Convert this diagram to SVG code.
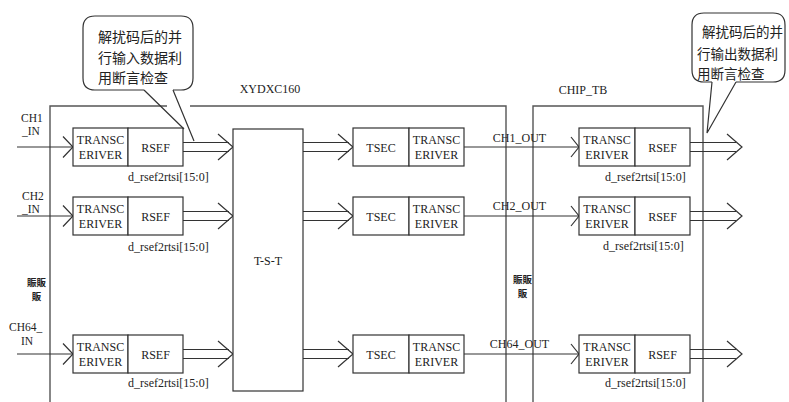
<svg xmlns="http://www.w3.org/2000/svg" xmlns:xlink="http://www.w3.org/1999/xlink" width="789" height="402" viewBox="0 0 789 402">
<style>
.b{fill:#fff;stroke:#333;stroke-width:1.2}
.l{fill:none;stroke:#333;stroke-width:1.2}
.f{fill:none;stroke:#555;stroke-width:1.4}
.t{font-family:'Liberation Serif','DejaVu Serif','Times New Roman',serif;font-size:12px;fill:#222}
.s{font-size:11.5px}
.m{text-anchor:middle}
.c{font-family:'Noto Sans CJK SC','Noto Sans CJK TC',sans-serif;font-size:14px;fill:#222}
.c2{font-size:13.5px}
.g{font-family:'Noto Sans CJK TC','Noto Sans CJK SC',sans-serif;font-size:9.5px;font-weight:bold;fill:#222;text-anchor:middle}
</style>
<defs>
<path id="chS" class="l" d="M-10,-10.5 L0,0 L-10,10.5"/>
<path id="chR" class="l" d="M-8,-10 L0,0 L-8,10"/>
<path id="chL" class="l" d="M-15,-13 L0,0 L-15,13"/>
<path id="dbl" class="l" d="M0,-4.5 H46 M0,4.5 H46"/>
</defs>
<rect width="789" height="402" fill="#fff"/>

<g id="frames">
<path class="f" d="M50,402 V106 H167 M190,106 H506 V402"/>
<path class="f" d="M533,402 V106 H703 V402"/>
<text class="t m" x="270" y="93">XYDXC160</text>
<text class="t m" x="583" y="94">CHIP_TB</text>
<text class="g" x="36.5" y="286">賑販</text>
<text class="g" x="36.5" y="300">販</text>
<text class="g" x="522.5" y="283">賑販</text>
<text class="g" x="522.5" y="297">販</text>
</g>

<g id="connectors">
<!-- row 1 -->
<path class="l" d="M17,147 H73"/><use xlink:href="#chS" x="73" y="147"/>
<use xlink:href="#dbl" x="183" y="147"/><use xlink:href="#chL" x="233" y="147"/>
<use xlink:href="#dbl" x="303" y="147"/><use xlink:href="#chL" x="353" y="147"/>
<path class="l" d="M464,147 H579"/><use xlink:href="#chR" x="579" y="147"/>
<use xlink:href="#dbl" x="690" y="147"/><use xlink:href="#chL" x="742" y="147"/>
<!-- row 2 -->
<path class="l" d="M17,216 H73"/><use xlink:href="#chS" x="73" y="216"/>
<use xlink:href="#dbl" x="183" y="216"/><use xlink:href="#chL" x="233" y="216"/>
<use xlink:href="#dbl" x="303" y="216"/><use xlink:href="#chL" x="353" y="216"/>
<path class="l" d="M464,216 H579"/><use xlink:href="#chR" x="579" y="216"/>
<use xlink:href="#dbl" x="690" y="216"/><use xlink:href="#chL" x="742" y="216"/>
<!-- row 3 -->
<path class="l" d="M17,354 H73"/><use xlink:href="#chS" x="73" y="354"/>
<use xlink:href="#dbl" x="183" y="354"/><use xlink:href="#chL" x="233" y="354"/>
<use xlink:href="#dbl" x="303" y="354"/><use xlink:href="#chL" x="353" y="354"/>
<path class="l" d="M464,354 H579"/><use xlink:href="#chR" x="579" y="354"/>
<use xlink:href="#dbl" x="690" y="354"/><use xlink:href="#chL" x="742" y="354"/>
<!-- labels -->
<text class="t s" x="21" y="122">CH1</text><text class="t s" x="22" y="135">_IN</text>
<text class="t s" x="22" y="200">CH2</text><text class="t s" x="22" y="213">_IN</text>
<text class="t s" x="9" y="331">CH64_</text><text class="t s" x="21" y="345">IN</text>
<text class="t m" x="519.5" y="142">CH1_OUT</text>
<text class="t m" x="519.5" y="210">CH2_OUT</text>
<text class="t m" x="519.5" y="348">CH64_OUT</text>
</g>

<g id="in1">
<rect class="b" x="73" y="128" width="55" height="38"/><rect class="b" x="128" y="128" width="55" height="38"/>
<text class="t m" x="100.5" y="143.5">TRANSC</text><text class="t m" x="100.5" y="158.5">ERIVER</text>
<text class="t m" x="155.5" y="151.5">RSEF</text>
<text class="t" x="128" y="181">d_rsef2rtsi[15:0]</text>
</g>
<g id="in2">
<rect class="b" x="73" y="197" width="55" height="38"/><rect class="b" x="128" y="197" width="55" height="38"/>
<text class="t m" x="100.5" y="212.5">TRANSC</text><text class="t m" x="100.5" y="227.5">ERIVER</text>
<text class="t m" x="155.5" y="220.5">RSEF</text>
<text class="t" x="128" y="251">d_rsef2rtsi[15:0]</text>
</g>
<g id="in64">
<rect class="b" x="73" y="335" width="55" height="38"/><rect class="b" x="128" y="335" width="55" height="38"/>
<text class="t m" x="100.5" y="350.5">TRANSC</text><text class="t m" x="100.5" y="365.5">ERIVER</text>
<text class="t m" x="155.5" y="358.5">RSEF</text>
<text class="t" x="128" y="387">d_rsef2rtsi[15:0]</text>
</g>

<g id="tst">
<rect class="b" x="233" y="129" width="70" height="262"/>
<text class="t m" x="268" y="265">T-S-T</text>
</g>

<g id="out1">
<rect class="b" x="353" y="128" width="56" height="38"/><rect class="b" x="409" y="128" width="55" height="38"/>
<text class="t m" x="381" y="152">TSEC</text>
<text class="t m" x="436.5" y="143.5">TRANSC</text><text class="t m" x="436.5" y="158.5">ERIVER</text>
</g>
<g id="out2">
<rect class="b" x="353" y="197" width="56" height="38"/><rect class="b" x="409" y="197" width="55" height="38"/>
<text class="t m" x="381" y="221">TSEC</text>
<text class="t m" x="436.5" y="212.5">TRANSC</text><text class="t m" x="436.5" y="227.5">ERIVER</text>
</g>
<g id="out64">
<rect class="b" x="353" y="335" width="56" height="38"/><rect class="b" x="409" y="335" width="55" height="38"/>
<text class="t m" x="381" y="359">TSEC</text>
<text class="t m" x="436.5" y="350.5">TRANSC</text><text class="t m" x="436.5" y="365.5">ERIVER</text>
</g>

<g id="tb1">
<rect class="b" x="579" y="128" width="56" height="38"/><rect class="b" x="635" y="128" width="55" height="38"/>
<text class="t m" x="607" y="143.5">TRANSC</text><text class="t m" x="607" y="158.5">ERIVER</text>
<text class="t m" x="662.5" y="151.5">RSEF</text>
<text class="t" x="605" y="181">d_rsef2rtsi[15:0]</text>
</g>
<g id="tb2">
<rect class="b" x="579" y="197" width="56" height="38"/><rect class="b" x="635" y="197" width="55" height="38"/>
<text class="t m" x="607" y="212.5">TRANSC</text><text class="t m" x="607" y="227.5">ERIVER</text>
<text class="t m" x="662.5" y="220.5">RSEF</text>
<text class="t" x="603" y="250">d_rsef2rtsi[15:0]</text>
</g>
<g id="tb64">
<rect class="b" x="579" y="335" width="56" height="38"/><rect class="b" x="635" y="335" width="55" height="38"/>
<text class="t m" x="607" y="350.5">TRANSC</text><text class="t m" x="607" y="365.5">ERIVER</text>
<text class="t m" x="662.5" y="358.5">RSEF</text>
<text class="t" x="605" y="387">d_rsef2rtsi[15:0]</text>
</g>

<g id="callout-in">
<path class="b" d="M144,90 H95 Q83,90 83,78 V28 Q83,16 95,16 H181 Q193,16 193,28 V78 Q193,90 181,90 H173"/>
<path class="l" d="M144,90 L184,129 M173,90 L194,141"/>
<text class="c" x="98" y="42">解扰码后的并</text>
<text class="c" x="98" y="63">行输入数据利</text>
<text class="c" x="98" y="83">用断言检查</text>
</g>

<g id="callout-out">
<path class="b" d="M712,82 H704 Q692,82 692,70 V25 Q692,13 704,13 H773 Q785,13 785,25 V70 Q785,82 773,82 H736"/>
<path class="l" d="M712,82 L707,133 L736,82"/>
<text class="c c2" x="702" y="37">解扰码后的并</text>
<text class="c c2" x="697" y="59">行输出数据利</text>
<text class="c c2" x="697" y="79">用断言检查</text>
</g>
</svg>
